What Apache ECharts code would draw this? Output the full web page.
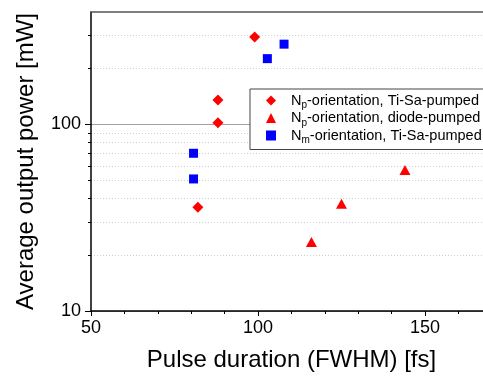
<!DOCTYPE html>
<html>
<head>
<meta charset="utf-8">
<script src="https://cdn.jsdelivr.net/npm/echarts@6/dist/echarts.min.js"></script>
<style>
  html, body { margin: 0; padding: 0; background: #fff; }
  #main { width: 483px; height: 376px; }
</style>
</head>
<body>
<div id="main"></div>
<script>
// data: pulse duration [fs] / power [mW]
var npTiSaDuration = [99, 88, 88, 82];
var npTiSaPower = [294, 135, 102, 36];
var npDiodeDuration = [116, 125, 144];
var npDiodePower = [23.4, 37.5, 57];
var nmTiSaDuration = [107.8, 102.8, 80.7, 80.7];
var nmTiSaPower = [269, 225, 70, 51];

var yMajorTicks = [10, 100];
var yMinorTicks = [20, 30, 40, 50, 60, 70, 80, 90, 200, 300];
var seriesNames = ['npTiSa', 'npDiode', 'nmTiSa'];
var legendSub = { npTiSa: 'p', npDiode: 'p', nmTiSa: 'm' };
var legendRest = {
  npTiSa: '-orientation, Ti-Sa-pumped',
  npDiode: '-orientation, diode-pumped',
  nmTiSa: '-orientation, Ti-Sa-pumped'
};

function pairs (xs, ys) {
  var out = [];
  for (var i = 0; i < xs.length; i++) {
    out.push([xs[i], ys[i]]);
  }
  return out;
}

var font = 'Liberation Sans, Arial, sans-serif';
var dom = document.getElementById('main');
var myChart = echarts.init(dom);

var option = {
  animation: false,
  backgroundColor: '#fff',
  // plot runs past the right edge: the picture is cropped there
  grid: { left: 91, top: 12, bottom: 65, right: -109, outerBoundsMode: 'none', containLabel: false },
  legend: {
    orient: 'vertical',
    left: 250,
    top: 89,
    padding: [4, 4, 4, 16],
    itemGap: 0,
    itemWidth: 10,
    itemHeight: 10,
    borderColor: '#444',
    borderWidth: 1,
    borderRadius: 0,
    backgroundColor: '#fff',
    data: [
      { name: 'npTiSa', icon: 'diamond' },
      { name: 'npDiode', icon: 'triangle' },
      { name: 'nmTiSa', icon: 'rect' }
    ],
    formatter: function (name) {
      return '{n|N}{s|' + legendSub[name] + '}{t|' + legendRest[name] + '}';
    },
    textStyle: {
      fontFamily: font,
      fontSize: 14.5,
      color: '#000',
      rich: {
        n: { fontFamily: font, fontSize: 14.5, color: '#000', lineHeight: 20, padding: [0, 0, 0, 10] },
        s: { fontFamily: font, fontSize: 10, color: '#000', lineHeight: 8, verticalAlign: 'bottom' },
        t: { fontFamily: font, fontSize: 14.5, color: '#000', lineHeight: 20 }
      }
    }
  },
  xAxis: [
    {
      type: 'value',
      position: 'bottom',
      min: 50,
      max: 200,
      interval: 50,
      name: 'Pulse duration (FWHM) [fs]',
      nameLocation: 'middle',
      nameGap: 37,
      nameTextStyle: { fontFamily: font, fontSize: 24, color: '#000', padding: [0, 100, 0, 0] },
      axisLine: { lineStyle: { color: '#000', width: 1.5 } },
      axisTick: { inside: false, length: 5, lineStyle: { color: '#000' } },
      minorTick: { show: true, splitNumber: 5, length: 3, lineStyle: { color: '#000' } },
      axisLabel: { fontFamily: font, fontSize: 18, color: '#000', margin: 8 },
      splitLine: { show: false }
    },
    {
      type: 'value',
      position: 'top',
      min: 50,
      max: 200,
      axisLine: { lineStyle: { color: '#555', width: 1.5 } },
      axisTick: { show: false },
      axisLabel: { show: false },
      splitLine: { show: false }
    }
  ],
  yAxis: [
    {
      type: 'log',
      logBase: 10,
      position: 'left',
      min: 10,
      max: 400,
      name: 'Average output power [mW]',
      nameLocation: 'middle',
      nameGap: 53,
      nameTextStyle: { fontFamily: font, fontSize: 24, color: '#000' },
      axisLine: { show: true, lineStyle: { color: '#000', width: 1.5 } },
      axisTick: { show: true, length: 6, customValues: yMajorTicks, lineStyle: { color: '#000' } },
      axisLabel: { fontFamily: font, fontSize: 18, color: '#000', margin: 10, customValues: yMajorTicks },
      splitLine: { show: true, lineStyle: { color: '#a0a0a0', width: 1 } }
    },
    {
      type: 'log',
      logBase: 10,
      position: 'left',
      min: 10,
      max: 400,
      axisLine: { show: false },
      axisTick: { show: true, length: 3, customValues: yMinorTicks, lineStyle: { color: '#000' } },
      axisLabel: { show: false },
      splitLine: { show: true, lineStyle: { color: '#cfcfcf', width: 1, type: [1, 2] } }
    }
  ],
  series: [
    {
      name: 'npTiSa',
      type: 'scatter',
      symbol: 'diamond',
      symbolSize: 11,
      itemStyle: { color: '#ff0000', opacity: 1 },
      data: pairs(npTiSaDuration, npTiSaPower)
    },
    {
      name: 'npDiode',
      type: 'scatter',
      symbol: 'triangle',
      symbolSize: [11, 10],
      itemStyle: { color: '#ff0000', opacity: 1 },
      data: pairs(npDiodeDuration, npDiodePower)
    },
    {
      name: 'nmTiSa',
      type: 'scatter',
      symbol: 'rect',
      symbolSize: 9,
      itemStyle: { color: '#0000ff', opacity: 1 },
      data: pairs(nmTiSaDuration, nmTiSaPower)
    }
  ]
};
myChart.setOption(option);
</script>
</body>
</html>
